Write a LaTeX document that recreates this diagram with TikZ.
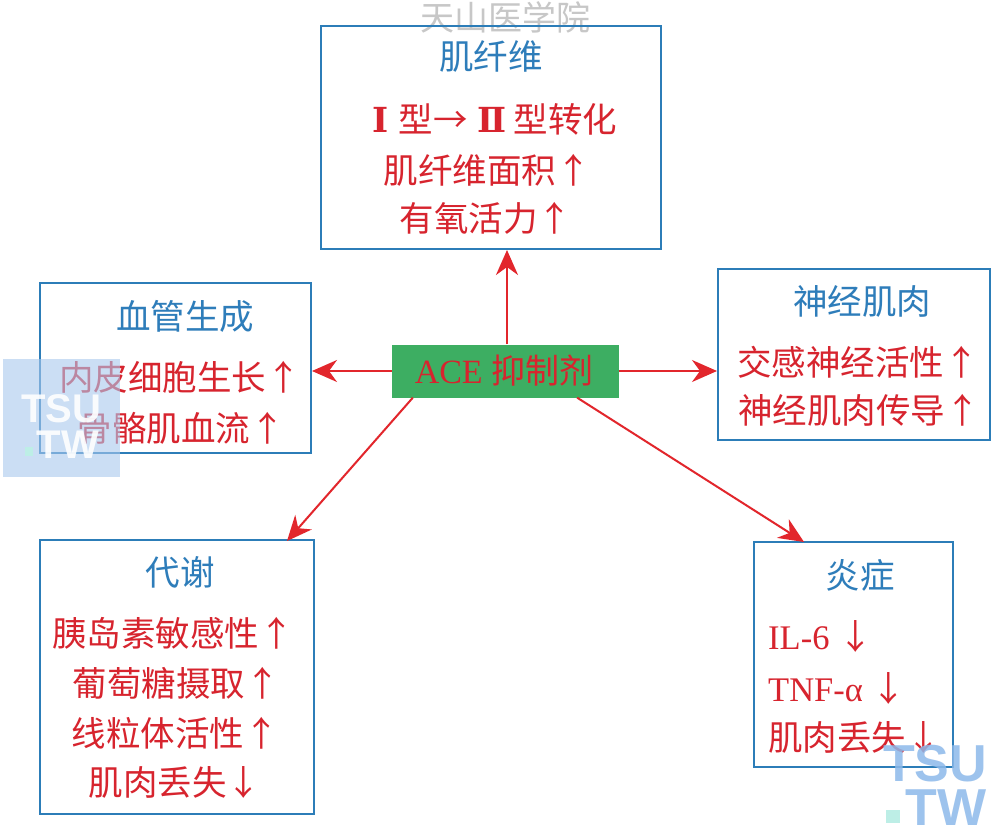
\documentclass[tikz,border=0pt]{standalone}
\usepackage{fontspec}
\setmainfont{Liberation Serif}
\newfontfamily\cjk{Noto Sans CJK SC}
\newfontfamily\romfont{DejaVu Serif}
\newfontfamily\wmfont{Liberation Sans}
\usetikzlibrary{arrows.meta}
\definecolor{bxblue}{HTML}{2C7DB8}
\definecolor{ttlblue}{HTML}{2E7DBA}
\definecolor{txtred}{HTML}{D7242E}
\definecolor{arrred}{HTML}{E2262C}
\definecolor{acegreen}{HTML}{3DAE62}
\definecolor{wmblue}{HTML}{A9C9EE}
\definecolor{wmblue2}{HTML}{8DB9EA}
\definecolor{wmteal}{HTML}{BDEEE6}
\begin{document}
\begin{tikzpicture}[x=1pt,y=-1pt,
  box/.style={draw=bxblue,line width=2pt,inner sep=0pt},
  ttl/.style={text=ttlblue,font=\fontsize{34.5}{40}\selectfont\cjk,inner sep=0pt},
  itm/.style={text=txtred,font=\fontsize{34.5}{40}\selectfont\cjk,inner sep=0pt},
  conn/.style={draw=arrred,line width=2pt,-{Stealth[length=25pt,width=22pt,inset=8pt]}}]
\useasboundingbox (0,0) rectangle (1003,837);
\fill[white] (0,0) rectangle (1003,837);
% watermark top
\node[text=black!22,font=\fontsize{34}{40}\selectfont\cjk,inner sep=0pt] (wmtop) at (505,17) {天山医学院};
% boxes
\node[box,minimum width=340pt,minimum height=223pt] (fib) at (491,137.5) {};
\node[box,minimum width=271pt,minimum height=170pt] (vas) at (175.5,368) {};
\node[box,minimum width=272pt,minimum height=171pt] (neu) at (854,354.5) {};
\node[box,minimum width=274pt,minimum height=274pt] (met) at (177,677) {};
\node[box,minimum width=199pt,minimum height=225pt] (inf) at (853.5,654.5) {};
\node[fill=acegreen,minimum width=227pt,minimum height=53pt,inner sep=0pt] (ace) at (505.5,371) {};
\node[text=txtred,font=\fontsize{34}{40}\selectfont,inner sep=0pt] (acet) at (504,371) {ACE {\cjk 抑制剂}};
% top box
\node[ttl] (fibT) at (491,57) {肌纤维};
\node[itm] (fib1) at (495,119) {{\romfont\bfseries Ⅰ}\hspace{10pt}型→\hspace{10pt}{\romfont\bfseries Ⅱ}\hspace{7pt}型转化};
\node[itm] (fib2) at (487,170) {肌纤维面积↑};
\node[itm] (fib3) at (486,218) {有氧活力↑};
% left box
\node[ttl] (vasT) at (185,316) {血管生成};
\node[itm] (vas1) at (180,377) {内皮细胞生长↑};
\node[itm] (vas2) at (181,428) {骨骼肌血流↑};
% right box
\node[ttl] (neuT) at (862,301) {神经肌肉};
\node[itm] (neu1) at (858,362) {交感神经活性↑};
\node[itm] (neu2) at (859,410) {神经肌肉传导↑};
% bottom left
\node[ttl] (metT) at (180,572) {代谢};
\node[itm] (met1) at (173,633) {胰岛素敏感性↑};
\node[itm] (met2) at (176,683) {葡萄糖摄取↑};
\node[itm] (met3) at (175,733) {线粒体活性↑};
\node[itm] (met4) at (175,782) {肌肉丢失↓};
% bottom right
\node[ttl] (infT) at (860,575) {炎症};
\node[itm,anchor=west] (inf1) at (768,636) {\rmfamily IL-6 {\cjk ↓}};
\node[itm,anchor=west] (inf2) at (768,688) {\rmfamily TNF-α {\cjk ↓}};
\node[itm,anchor=west] (inf3) at (768,737) {肌肉丢失↓};
% connectors
\draw[conn] (ace.north -| 507,0) -- (fib.south -| 507,0);
\draw[conn] (ace.west) -- (ace.west -| vas.east);
\draw[conn] (ace.east) -- (ace.east -| neu.west);
\draw[conn] ([xshift=21pt]ace.south west) -- ([xshift=248pt,yshift=-2pt]met.north west);
\draw[conn] ([xshift=-42pt]ace.south east) -- ([xshift=51pt,yshift=-1pt]inf.north west);
% watermark logos
\fill[wmblue,opacity=0.6] (3,359) rectangle (120,477);
\node[text=white,font=\fontsize{40}{44}\selectfont\wmfont\bfseries,inner sep=0pt,opacity=0.9] (wm1a) at (61,409) {TSU};
\node[text=white,font=\fontsize{40}{44}\selectfont\wmfont\bfseries,inner sep=0pt,opacity=0.9] (wm1b) at (68,445) {TW};
\fill[wmteal] (25,447) rectangle (33,456);
\node[text=wmblue2,font=\fontsize{52}{56}\selectfont\wmfont\bfseries,inner sep=0pt,opacity=0.85] (wm2a) at (935,764) {TSU};
\node[text=wmblue2,font=\fontsize{52}{56}\selectfont\wmfont\bfseries,inner sep=0pt,opacity=0.85] (wm2b) at (946,808) {TW};
\fill[wmteal] (886,810) rectangle (900,823);
\end{tikzpicture}
\end{document}
